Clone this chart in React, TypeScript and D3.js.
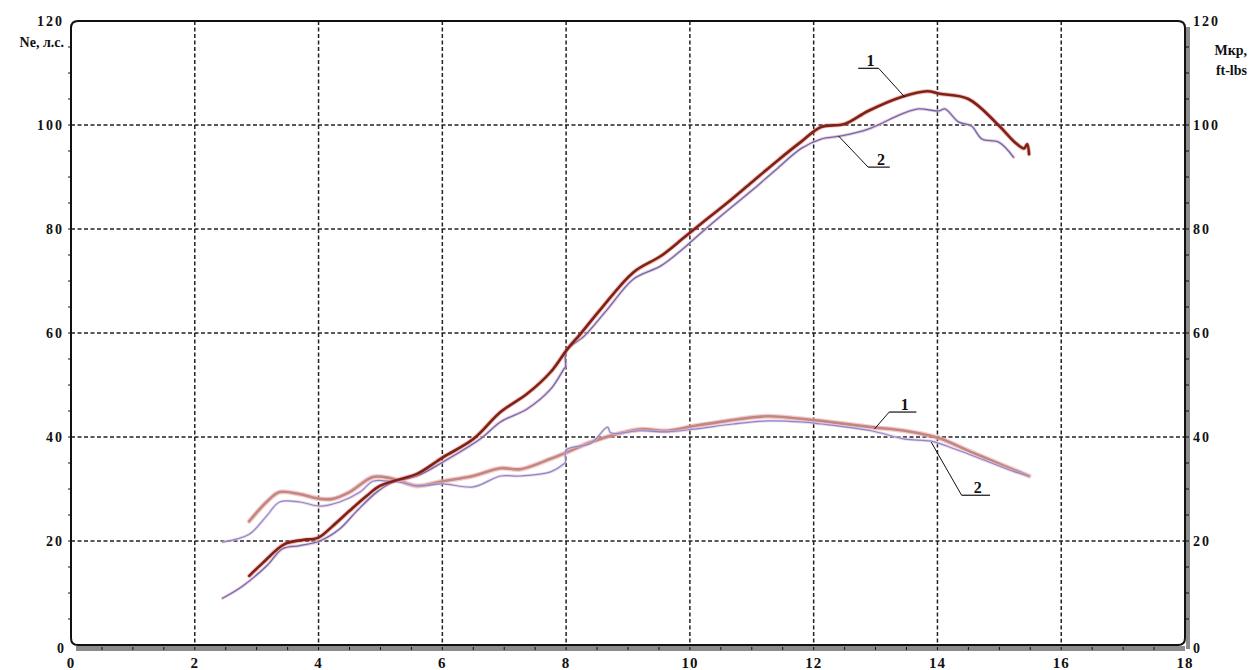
import React from "react";
import * as d3 from "d3";

// ---- data ----
const xTicks = [0, 2, 4, 6, 8, 10, 12, 14, 16, 18];
const yTicks = [0, 20, 40, 60, 80, 100, 120];
const leftTitle = "Ne, л.с.";
const rightTitle1 = "Мкр,";
const rightTitle2 = "ft-lbs";

const power1X = [2.88, 3.1, 3.45, 3.74, 3.99, 4.23, 4.5, 4.78, 4.99, 5.32, 5.59, 6.01, 6.5, 6.94, 7.37, 7.75, 8.02, 8.23, 8.56, 9.09, 9.53, 9.89, 10.2, 10.6, 11.0, 11.4, 11.8, 12.12, 12.5, 12.88, 13.42, 13.83, 14.04, 14.5, 15.0, 15.25, 15.4, 15.45, 15.48];
const power1Y = [13.3, 15.8, 19.4, 20.2, 20.6, 22.9, 25.8, 28.7, 30.6, 31.9, 32.9, 36.1, 39.6, 44.8, 48.3, 52.5, 56.9, 59.8, 64.6, 71.7, 74.8, 78.2, 81.2, 85, 89, 93, 96.8, 99.6, 100.2, 102.7, 105.4, 106.5, 106, 105, 99.8, 96.7, 95.5, 96.3, 94.4];

const power2X = [2.45, 2.77, 3.16, 3.42, 3.7, 4.02, 4.34, 4.62, 4.94, 5.2, 5.59, 6.01, 6.61, 6.94, 7.37, 7.75, 7.96, 7.99, 8.0, 8.3, 8.67, 9.09, 9.53, 9.89, 10.06, 10.5, 11.0, 11.4, 11.8, 12.12, 12.45, 12.88, 13.42, 13.69, 14.02, 14.12, 14.34, 14.55, 14.72, 14.99, 15.23];
const power2Y = [9, 11.3, 15.2, 18.5, 19.1, 20, 22.3, 25.8, 29.4, 31.3, 32.5, 35.2, 39.6, 42.9, 45.4, 49.2, 53, 53.5, 56.5, 59.5, 64.6, 70.4, 72.9, 76.2, 78, 82.5, 87.4, 91.5, 95.5, 97.3, 97.9, 99.2, 102.1, 103.1, 102.7, 103.1, 100.6, 99.8, 97.3, 96.7, 93.8];

const torque1X = [2.88, 3.16, 3.37, 3.7, 4.02, 4.23, 4.5, 4.88, 5.15, 5.32, 5.59, 6.01, 6.5, 6.94, 7.26, 7.75, 8.02, 8.4, 8.83, 9.2, 9.64, 10.06, 10.6, 11.26, 11.8, 12.12, 12.93, 13.47, 13.9, 14.07, 14.55, 15.09, 15.48];
const torque1Y = [23.8, 27.5, 29.4, 29, 28.1, 28.1, 29.4, 32.3, 32.1, 31.5, 30.6, 31.5, 32.5, 34, 33.8, 35.8, 37.1, 39, 40.6, 41.5, 41.2, 42.1, 43.1, 44, 43.5, 43.1, 41.9, 41.2, 40.2, 39.6, 37.1, 34.4, 32.5];

const torque2X = [2.45, 2.88, 3.16, 3.37, 3.7, 4.02, 4.34, 4.67, 4.88, 5.15, 5.32, 5.59, 6.01, 6.5, 6.94, 7.26, 7.75, 7.96, 7.99, 8.0, 8.4, 8.67, 8.72, 9.2, 9.64, 10.06, 10.7, 11.26, 11.8, 12.12, 12.93, 13.47, 13.9, 14.28, 14.83, 15.25, 15.48];
const torque2Y = [19.8, 21.3, 24.8, 27.5, 27.5, 26.7, 27.5, 29.4, 31.5, 31.5, 31.3, 30.6, 31, 30.4, 32.5, 32.5, 33.3, 34.8, 35.2, 37.5, 38.8, 41.9, 40.8, 41.2, 41, 41.5, 42.5, 43.1, 42.9, 42.5, 41.2, 39.6, 39.2, 37.7, 35.2, 33.3, 32.5];

// curve label annotations
const annoLabels = ["1", "2", "1", "2"];
const annoX0 = [12.72, 12.88, 13.22, 14.39];
const annoX1 = [13.05, 13.23, 13.66, 14.85];
const annoY = [110.9, 91.9, 44.8, 28.8];
const annoEndX = [13.47, 12.4, 12.98, 13.9];
const annoEndY = [105.4, 97.9, 41.5, 39.0];
const annoFromRight = [true, false, false, false];

const W = 1250;
const H = 670;
const L = 71, R = 1185, T = 21, B = 645;

export default function App() {
  const x = d3.scaleLinear().domain([0, 18]).range([L, R]);
  const y = d3.scaleLinear().domain([0, 120]).range([B, T]);
  const line = d3
    .line<[number, number]>()
    .x((d) => x(d[0]))
    .y((d) => y(d[1]))
    .curve(d3.curveCatmullRom.alpha(0.5));
  const zip = (a: number[], b: number[]) => a.map((v, i) => [v, b[i]] as [number, number]);

  const p1 = line(zip(power1X, power1Y)) || "";
  const p2 = line(zip(power2X, power2Y)) || "";
  const t1 = line(zip(torque1X, torque1Y)) || "";
  const t2 = line(zip(torque2X, torque2Y)) || "";

  const r = 7;
  const frame = `M${L},${B - r} L${L},${T + r} Q${L},${T} ${L + r},${T} L${R - r},${T} Q${R},${T} ${R},${T + r} L${R},${B - r} Q${R},${B} ${R - r},${B} L${L + r},${B} Q${L},${B} ${L},${B - r}`;

  const font = "'Liberation Serif', 'DejaVu Serif', serif";
  const minorX = d3.range(0.5, 18, 0.5);
  const minorY = d3.range(5, 120, 5);

  return (
    <svg width={W} height={H} style={{ position: "absolute", left: 0, top: 0, background: "#fff" }}>
      <rect x={0} y={0} width={W} height={H} fill="#fff" />
      {/* grid */}
      {xTicks.filter((v) => v > 0 && v < 18).map((v) => (
        <line key={"gx" + v} x1={x(v)} x2={x(v)} y1={T} y2={B} stroke="#222" strokeWidth={1.5} strokeDasharray="4,2.5" />
      ))}
      {yTicks.filter((v) => v > 0 && v < 120).map((v) => (
        <line key={"gy" + v} x1={L} x2={R} y1={y(v)} y2={y(v)} stroke="#222" strokeWidth={1.5} strokeDasharray="4,2.5" />
      ))}
      {/* shadow bands */}
      <rect x={L + 5} y={B + 1} width={R - L - 5} height={5} fill="#8c8c8c" />
      <rect x={R + 1} y={T + 6} width={4} height={B - T - 2} fill="#8c8c8c" />
      {/* frame */}
      <path d={frame} fill="none" stroke="#111" strokeWidth={2} />
      {/* minor ticks */}
      {minorX.map((v) => (
        <line key={"mx" + v} x1={x(v)} x2={x(v)} y1={B + 2} y2={B + 5} stroke="#111" strokeWidth={1} />
      ))}
      {minorY.map((v) => (
        <line key={"ml" + v} x1={L - 3} x2={L} y1={y(v)} y2={y(v)} stroke="#111" strokeWidth={1} />
      ))}
      {minorY.map((v) => (
        <line key={"mr" + v} x1={R} x2={R + 4} y1={y(v)} y2={y(v)} stroke="#111" strokeWidth={1} />
      ))}
      {/* curves */}
      <g fill="none" strokeLinejoin="round" strokeLinecap="round">
        <path d={t1} stroke="#eab0b0" strokeWidth={5} opacity={0.6} />
        <path d={t1} stroke="#c48682" strokeWidth={2.6} />
        <path d={t2} stroke="#f4b8c8" strokeWidth={3} opacity={0.6} />
        <path d={t2} stroke="#7d8cd6" strokeWidth={1.2} />
        <path d={p2} stroke="#f2b0c0" strokeWidth={3.2} opacity={0.7} />
        <path d={p2} stroke="#5d70b8" strokeWidth={1.3} />
        <path d={p1} stroke="#e07070" strokeWidth={4.5} opacity={0.45} />
        <path d={p1} stroke="#7e2216" strokeWidth={2.6} />
      </g>
      {/* annotations */}
      {annoLabels.map((lab, i) => {
        const sx = annoFromRight[i] ? x(annoX1[i]) : x(annoX0[i]);
        return (
          <g key={"a" + i}>
            <line x1={x(annoX0[i])} x2={x(annoX1[i])} y1={y(annoY[i])} y2={y(annoY[i])} stroke="#111" strokeWidth={1.2} />
            <line x1={sx} y1={y(annoY[i])} x2={x(annoEndX[i])} y2={y(annoEndY[i])} stroke="#111" strokeWidth={1} />
            <text x={(x(annoX0[i]) + x(annoX1[i])) / 2 + 2} y={y(annoY[i]) - 2} textAnchor="middle" fontFamily={font} fontWeight="bold" fontSize={16} fill="#111">
              {lab}
            </text>
          </g>
        );
      })}
      {/* left y labels */}
      {yTicks.map((v) => (
        <text key={"yl" + v} x={v === 0 ? 66 : 64} y={v === 0 ? y(v) + 8 : y(v) + 5} textAnchor="end" fontFamily={font} fontWeight="bold" fontSize={14} letterSpacing={2} fill="#111">
          {v}
        </text>
      ))}
      {/* right y labels */}
      {yTicks.map((v) => (
        <text key={"yr" + v} x={1193} y={v === 0 ? y(v) + 8 : y(v) + 5} textAnchor="start" fontFamily={font} fontWeight="bold" fontSize={14} letterSpacing={2} fill="#111">
          {v}
        </text>
      ))}
      {/* x labels */}
      {xTicks.map((v) => (
        <text key={"xl" + v} x={x(v)} y={668} textAnchor="middle" fontFamily={font} fontWeight="bold" fontSize={15} letterSpacing={1} fill="#111">
          {v}
        </text>
      ))}
      {/* axis titles */}
      <text x={64} y={47} textAnchor="end" fontFamily={font} fontWeight="bold" fontSize={14} fill="#111">
        {leftTitle}
      </text>
      <text x={1247} y={55} textAnchor="end" fontFamily={font} fontWeight="bold" fontSize={14} fill="#111">
        {rightTitle1}
      </text>
      <text x={1247} y={75} textAnchor="end" fontFamily={font} fontWeight="bold" fontSize={14} fill="#111">
        {rightTitle2}
      </text>
    </svg>
  );
}
